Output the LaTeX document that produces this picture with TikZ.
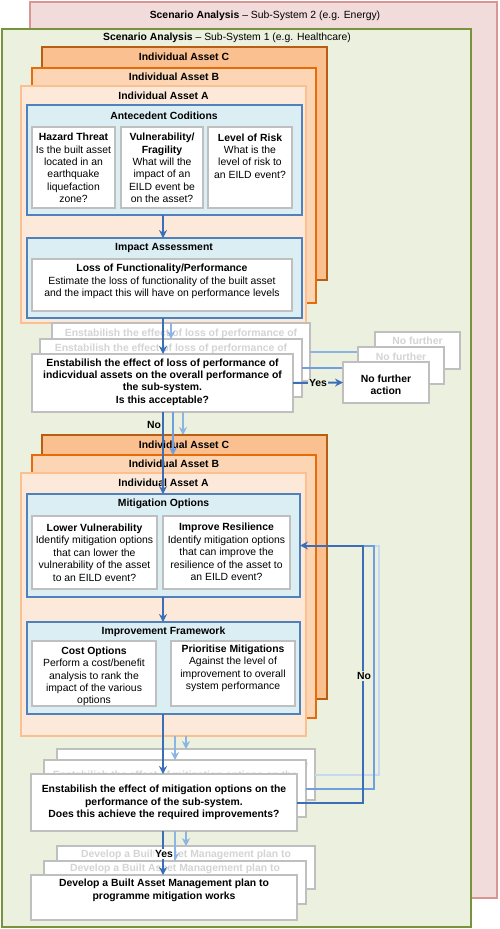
\documentclass[tikz,border=0pt]{standalone}
\usepackage{fontspec}
\setmainfont{Liberation Sans}
\usetikzlibrary{arrows.meta}
\definecolor{pinkbg}{HTML}{F2DCDB}
\definecolor{pinkbd}{HTML}{D99694}
\definecolor{greenbg}{HTML}{EBF1DE}
\definecolor{greenbd}{HTML}{77933C}
\definecolor{ocfill}{HTML}{FAC090}
\definecolor{ocbd}{HTML}{B65F12}
\definecolor{obfill}{HTML}{FCD5B5}
\definecolor{obbd}{HTML}{E46C0A}
\definecolor{oafill}{HTML}{FDE9D9}
\definecolor{oabd}{HTML}{FAC090}
\definecolor{bluebg}{HTML}{DBEEF4}
\definecolor{bluebd}{HTML}{4F81BD}
\definecolor{graybd}{HTML}{BFBFBF}
\definecolor{fadetxt}{HTML}{D4D4D4}
\definecolor{adark}{HTML}{3C6EB8}
\definecolor{amid}{HTML}{6F9FDE}
\definecolor{alight}{HTML}{8DB4E2}
\definecolor{alighter}{HTML}{C6D9F1}
\newcommand\fs{\fontsize{10.4}{12.4}\selectfont}
\newcommand\bx[6]{\node[#2,anchor=north west,minimum width={(#5-#3)*1pt},minimum height={(#6-#4)*1pt}] (#1) at (#3,#4) {};}
\tikzset{
  base/.style={inner sep=0pt, outer sep=0pt},
  pinkbox/.style={base, draw=pinkbd, fill=pinkbg, line width=1.2pt},
  greenbox/.style={base, draw=greenbd, fill=greenbg, line width=2pt},
  assetC/.style={base, draw=ocbd, fill=ocfill, line width=1.4pt},
  assetB/.style={base, draw=obbd, fill=obfill, line width=1.4pt},
  assetA/.style={base, draw=oabd, fill=oafill, line width=1.4pt},
  bluebox/.style={base, draw=bluebd, fill=bluebg, line width=1.5pt},
  wbox/.style={base, draw=graybd, fill=white, line width=1.4pt},
  txt/.style={inner sep=0pt, align=center, font=\fs},
  btxt/.style={txt, font=\fs\bfseries},
  ftxt/.style={btxt, text=fadetxt},
  conn/.style={line width=2pt},
  arr/.style={conn, -{Stealth[length=8pt,width=8pt]}},
}
\begin{document}
\begin{tikzpicture}[x=1pt,y=-1pt]
\useasboundingbox (0,0) rectangle (500,929);
% sub-systems
\bx{ss2}{pinkbox}{30}{2}{497}{898}
\node[btxt] (ss2t) at (265,16) {Scenario Analysis {\mdseries – Sub-System 2 (e.g. Energy)}};
\bx{ss1}{greenbox}{2}{29}{471}{927}
\node[btxt] (ss1t) at (227,38) {Scenario Analysis {\mdseries – Sub-System 1 (e.g. Healthcare)}};
\coordinate (kx) at (163,0);
% ---------- stack 1
\bx{c1}{assetC}{42}{47}{327}{280}
\node[btxt] (c1t) at (184,57) {Individual Asset C};
\bx{b1}{assetB}{32}{68}{316}{303}
\node[btxt] (b1t) at (174,77) {Individual Asset B};
\bx{a1}{assetA}{21}{86}{306}{323}
\node[btxt] (a1t) at (163.5,96) {Individual Asset A};
\bx{ante}{bluebox}{27}{105}{302}{215}
\node[btxt] (antet) at (164,116) {Antecedent Coditions};
\bx{haz}{wbox}{32}{127}{115}{208}
\node[txt] (hazt) at (73.5,168) {\textbf{Hazard Threat}\\Is the built asset\\located in an\\earthquake\\liquefaction\\zone?};
\bx{vul}{wbox}{121}{127}{203}{208}
\node[txt] (vult) at (162,168) {\textbf{Vulnerability/}\\\textbf{Fragility}\\What will the\\impact of an\\EILD event be\\on the asset?};
\bx{lor}{wbox}{208}{127}{292}{208}
\node[txt] (lort) at (250,156) {\textbf{Level of Risk}\\What is the\\level of risk to\\an EILD event?};
\bx{imp}{bluebox}{27}{238}{302}{318}
\node[btxt] (impt) at (164,248) {Impact Assessment};
\bx{loss}{wbox}{32}{259}{292}{311}
\node[txt] (losst) at (162,281.5) {\textbf{Loss of Functionality/Performance}\\Estimate the loss of functionality of the built asset\\and the impact this will have on performance levels};
\draw[arr, adark] (ante.south -| kx) -- (imp.north -| kx);
% ---------- first decision
\bx{e1c}{wbox}{52}{323}{310}{381}
\node[ftxt] (e1ct) at (181,334) {Enstabilish the effect of loss of performance of};
\bx{n1c}{wbox}{375}{332}{460}{369}
\node[ftxt] (n1ct) at (417.5,341) {No further};
\draw[conn, alight] (e1c.east) -- (e1c.east -| n1c.west);
\bx{e1b}{wbox}{40}{339}{302}{397}
\node[ftxt] (e1bt) at (171,349) {Enstabilish the effect of loss of performance of};
\draw[arr, alight] (a1.south -| e1b.north) -- (e1b.north);
\bx{n1b}{wbox}{358}{347}{444}{384}
\node[ftxt] (n1bt) at (401,357) {No further};
\draw[conn, amid] (e1b.east) -- (e1b.east -| n1b.west);
\bx{e1a}{wbox}{32}{354}{293}{412}
\node[btxt] (e1at) at (162.5,382) {Enstabilish the effect of loss of performance of\\indicvidual assets on the overall performance of\\the sub-system.\\Is this acceptable?};
\draw[arr, adark] (imp.south -| kx) -- (e1a.north -| kx);
\bx{n1a}{wbox}{343}{362}{429}{403}
\node[btxt] (n1at) at (386,384.5) {No further\\action};
\draw[arr, adark] (e1a.east) -- (n1a.west);
\node[btxt, fill=greenbg, inner sep=1pt] (yes1) at (318,383) {Yes};
% ---------- stack 2
\coordinate (k183) at (183,435);
\draw[arr, alight] (e1a.south -| k183) -- (k183);
\bx{c2}{assetC}{42}{435}{327}{699}
\node[btxt] (c2t) at (184,445) {Individual Asset C};
\bx{b2}{assetB}{32}{455}{316}{718}
\node[btxt] (b2t) at (174,464) {Individual Asset B};
\coordinate (k173) at (173,0);
\draw[arr, amid] (e1a.south -| k173) -- (b2.north -| k173);
\bx{a2}{assetA}{21}{473}{306}{736}
\node[btxt] (a2t) at (163.5,483) {Individual Asset A};
\bx{mit}{bluebox}{27}{494}{300}{597}
\node[btxt] (mitt) at (163.5,504) {Mitigation Options};
\bx{lv}{wbox}{32}{516}{157}{589}
\node[txt] (lvt) at (94.5,552.5) {\textbf{Lower Vulnerability}\\Identify mitigation options\\that can lower the\\vulnerability of the asset\\to an EILD event?};
\bx{ir}{wbox}{163}{516}{290}{589}
\node[txt] (irt) at (226.5,552) {\textbf{Improve Resilience}\\Identify mitigation options\\that can improve the\\resilience of the asset to\\an EILD event?};
\bx{ifw}{bluebox}{27}{622}{300}{714}
\node[btxt] (ifwt) at (163.5,632) {Improvement Framework};
\bx{co}{wbox}{32}{641}{156}{706}
\node[txt] (cot) at (94,676.5) {\textbf{Cost Options}\\Perform a cost/benefit\\analysis to rank the\\impact of the various\\options};
\bx{pm}{wbox}{171}{641}{295}{706}
\node[txt] (pmt) at (233,668.5) {\textbf{Prioritise Mitigations}\\Against the level of\\improvement to overall\\system performance};
\draw[arr, adark] (mit.south -| kx) -- (ifw.north -| kx);
\draw[arr, adark] (e1a.south -| kx) -- (mit.north -| kx);
\node[btxt] (no1) at (154,425) {No};
% ---------- second decision
\bx{e2c}{wbox}{57}{749}{315}{800}
\node[ftxt] (e2ct) at (186,765) {Enstabilish the effect of mitigation options on the};
\draw[arr, alight] (a2.south -| e2c.north) -- (e2c.north);
\bx{e2b}{wbox}{44}{760}{306}{817}
\node[ftxt] (e2bt) at (175,776) {Enstabilish the effect of mitigation options on the};
\draw[arr, alight] (a2.south -| e2b.north) -- (e2b.north);
\bx{e2a}{wbox}{31}{774}{297}{831}
\node[btxt] (e2at) at (164,802.5) {Enstabilish the effect of mitigation options on the\\performance of the sub-system.\\Does this achieve the required improvements?};
\draw[arr, adark] (ifw.south -| kx) -- (e2a.north -| kx);
% feedback loop
\coordinate (L1) at (379,545.5);
\coordinate (L2) at (374,545.5);
\coordinate (L3) at (363,545.5);
\draw[conn, alighter] (e2c.east) -| (L1) -- (L3);
\draw[conn, amid] (e2b.east) -| (L2) -- (L3);
\draw[arr, adark] (e2a.east) -| (L3) -- (mit.east);
\node[btxt, fill=greenbg, inner sep=1pt] (no2) at (364,676) {No};
% ---------- final
\bx{fc}{wbox}{57}{846}{315}{889}
\node[ftxt] (fct) at (186,855) {Develop a Built Asset Management plan to};
\draw[arr, alight] (e2a.south -| fc.north) -- (fc.north);
\bx{fb}{wbox}{44}{861}{306}{904}
\node[ftxt] (fbt) at (175,869) {Develop a Built Asset Management plan to};
\draw[arr, alight] (e2a.south -| fb.north) -- (fb.north);
\bx{fa}{wbox}{31}{875}{297}{920}
\node[btxt] (fat) at (164,890.5) {Develop a Built Asset Management plan to\\programme mitigation works};
\draw[arr, adark] (e2a.south -| kx) -- (fa.north -| kx);
\node[btxt, fill=white, inner sep=1pt] (yes2) at (164,854) {Yes};
\end{tikzpicture}
\end{document}
